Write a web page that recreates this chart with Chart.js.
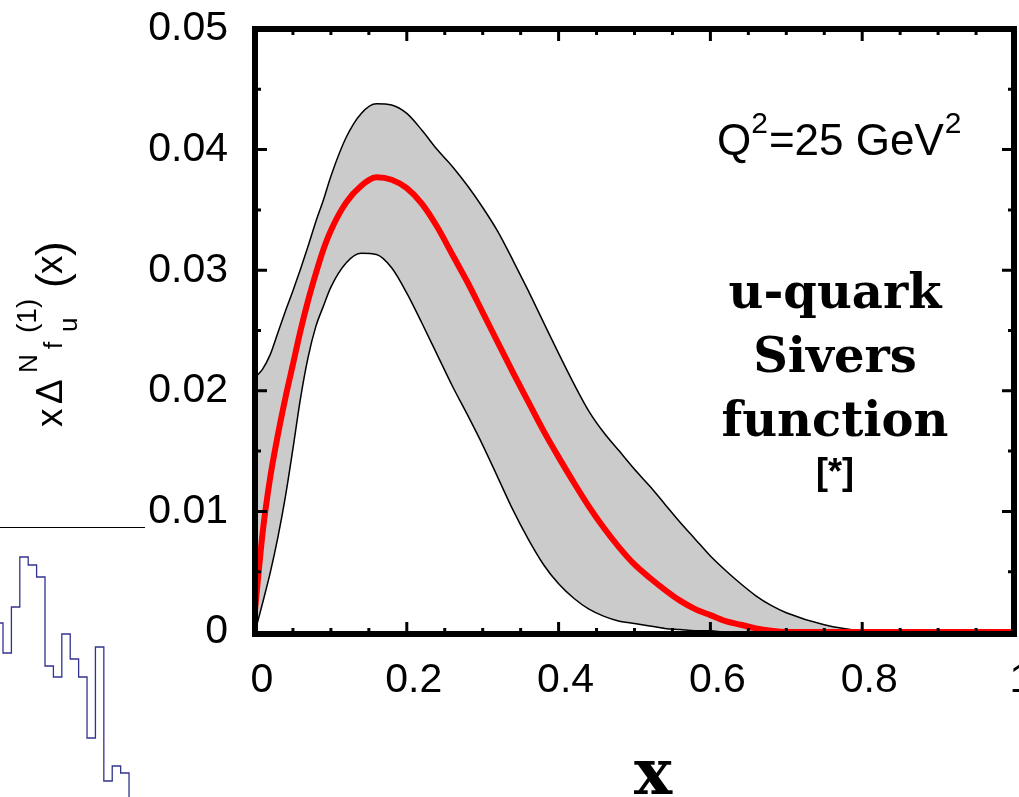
<!DOCTYPE html>
<html>
<head>
<meta charset="utf-8">
<script src="https://cdn.jsdelivr.net/npm/chart.js@4.4.1/dist/chart.umd.min.js"></script>
<style>
  html, body { margin: 0; padding: 0; background: #fff; }
  body { width: 1019px; height: 797px; overflow: hidden; position: relative; }
  #side { position: absolute; left: 0; top: 540px; }
  #main { position: absolute; left: 0; top: 0; }
  #sideLine { position: absolute; left: 0; top: 527px; width: 145px; border-top: 1.5px solid #000; }
</style>
</head>
<body>
<div id="sideLine"></div>
<canvas id="side" width="145" height="257"></canvas>
<canvas id="main" width="1060" height="797"></canvas>
<script>
// u-quark Sivers first moment, Q^2 = 25 GeV^2
const xValues = [0, 0.01, 0.02, 0.03, 0.04, 0.05, 0.06, 0.07, 0.08, 0.09, 0.10,
  0.12, 0.14, 0.16, 0.18, 0.20, 0.22, 0.24, 0.26, 0.28, 0.30,
  0.32, 0.34, 0.36, 0.38, 0.40, 0.42, 0.44, 0.46, 0.48, 0.50,
  0.52, 0.54, 0.56, 0.58, 0.60, 0.62, 0.64, 0.66, 0.68, 0.70,
  0.75, 0.80, 0.85, 0.90, 0.95, 1.00];

const centralFit = [0.0018, 0.0082, 0.0128, 0.0163, 0.0194, 0.0222, 0.0250, 0.0275, 0.0297, 0.0317, 0.0333,
  0.0356, 0.0370, 0.0377, 0.0375, 0.0368, 0.0355, 0.0336, 0.0313, 0.0290, 0.0265,
  0.0240, 0.0215, 0.0191, 0.0167, 0.0145, 0.0124, 0.0104, 0.0086, 0.0070, 0.0056,
  0.0045, 0.0035, 0.0026, 0.0019, 0.0014, 0.0009, 0.0006, 0.0003, 0.0001, 0,
  0, 0, 0, 0, 0, 0];

const bandUpper = [0.0211, 0.0218, 0.0230, 0.0248, 0.0266, 0.0283, 0.0301, 0.0320, 0.0340, 0.0358, 0.0378,
  0.0410, 0.0430, 0.0438, 0.0437, 0.0430, 0.0416, 0.0400, 0.0386, 0.0370, 0.0352,
  0.0332, 0.0308, 0.0283, 0.0257, 0.0231, 0.0206, 0.0183, 0.0165, 0.0150, 0.0135,
  0.0121, 0.0106, 0.0091, 0.0077, 0.0063, 0.0051, 0.0040, 0.0030, 0.0022, 0.0016,
  0.0006, 0.0001, 0, 0, 0, 0];

const bandLower = [0, 0.0024, 0.0049, 0.0078, 0.0112, 0.0152, 0.0194, 0.0228, 0.0253, 0.0270, 0.0286,
  0.0306, 0.0314, 0.0313, 0.0302, 0.0281, 0.0256, 0.0230, 0.0204, 0.0180, 0.0155,
  0.0128, 0.0101, 0.0077, 0.0056, 0.0040, 0.0028, 0.0019, 0.0013, 0.0009, 0.0007,
  0.0005, 0.0003, 0.0002, 0.0001, 0.0001, 0, 0, 0, 0, 0,
  0, 0, 0, 0, 0, 0];

const xTicks = [0, 0.2, 0.4, 0.6, 0.8, 1];
const yTicks = [0, 0.01, 0.02, 0.03, 0.04, 0.05];

// cropped neighbour panel on the left: histogram bin edges and counts
const sideEdges = [0, 1, 2, 3, 4, 5, 6, 7, 8, 9, 10, 11, 12, 13, 14, 15, 16];
const sideCounts = [92, 77, 100, 125, 121, 115, 70.5, 65, 86.5, 74, 65, 34.5, 80, 13, 20.5, 17, 0];

const SANS = '"Liberation Sans", Arial, Helvetica, sans-serif';
const SERIF = '"DejaVu Serif", serif';

// thick frame with inward ticks on all four sides
const framePlugin = {
  id: 'frame',
  afterDatasetsDraw(chart) {
    const {ctx, chartArea: a, scales: {x, y}} = chart;
    const bottom = a.bottom + 2;
    ctx.save();
    ctx.strokeStyle = '#000';
    ctx.lineWidth = 3;
    ctx.beginPath();
    for (let i = 1; i < 20; i++) {
      const px = x.getPixelForValue(i * 0.05);
      const len = i % 4 === 0 ? 12 : 6;
      ctx.moveTo(px, bottom); ctx.lineTo(px, bottom - len);
      ctx.moveTo(px, a.top); ctx.lineTo(px, a.top + len);
    }
    for (let i = 1; i < 10; i++) {
      const py = y.getPixelForValue(i * 0.005);
      const len = i % 2 === 0 ? 12 : 6;
      ctx.moveTo(a.left, py); ctx.lineTo(a.left + len, py);
      ctx.moveTo(a.right, py); ctx.lineTo(a.right - len, py);
    }
    ctx.stroke();
    ctx.lineWidth = 6;
    ctx.strokeRect(a.left, a.top, a.right - a.left, bottom - a.top);
    ctx.restore();
  }
};

const textPlugin = {
  id: 'texts',
  afterDraw(chart) {
    const ctx = chart.ctx;
    ctx.save();
    ctx.fillStyle = '#000';
    ctx.textBaseline = 'alphabetic';

    // y axis title, rotated
    ctx.save();
    ctx.translate(62, 427);
    ctx.rotate(-Math.PI / 2);
    ctx.font = '37px ' + SANS;
    ctx.fillText('x', 0, 0);
    ctx.fillText('\u0394', 23, 0);
    ctx.font = '26px ' + SANS;
    ctx.fillText('N', 54, -25);
    ctx.fillText('f', 78, 0);
    ctx.fillText('u', 95, 15);
    ctx.font = '28px ' + SANS;
    ctx.fillText('(1)', 94, -26);
    ctx.font = '44px ' + SANS;
    ctx.fillText('(', 139, 5);
    ctx.fillText(')', 171, 5);
    ctx.font = '37px ' + SANS;
    ctx.fillText('x', 153, 0);
    ctx.restore();

    // Q^2 = 25 GeV^2
    let qx = 717;
    ctx.font = '44px ' + SANS;
    ctx.fillText('Q', qx, 155);
    qx += ctx.measureText('Q').width;
    ctx.font = '30px ' + SANS;
    ctx.fillText('2', qx, 133);
    qx += ctx.measureText('2').width + 1;
    ctx.font = '44px ' + SANS;
    ctx.fillText('=25 GeV', qx, 155);
    qx += ctx.measureText('=25 GeV').width;
    ctx.font = '30px ' + SANS;
    ctx.fillText('2', qx + 1, 133);

    // panel label
    ctx.textAlign = 'center';
    ctx.font = 'bold 48px ' + SERIF;
    ctx.fillText('u-quark', 835, 308);
    ctx.fillText('Sivers', 835, 372);
    ctx.fillText('function', 835, 436);
    ctx.font = 'bold 36px ' + SANS;
    ctx.fillText('[*]', 835, 484);

    // x axis title
    ctx.font = 'bold 64px ' + SERIF;
    ctx.fillText('x', 653, 794);
    ctx.restore();
  }
};

const tickFont = {family: SANS, size: 41};

// keep the label overhang from pushing the plot area around
function fixPadding(s) {
  s.paddingTop = 0;
  s.paddingBottom = 0;
  s.paddingLeft = 0;
  s.paddingRight = 0;
}

new Chart(document.getElementById('main'), {
  type: 'line',
  data: {
    datasets: [
      {
        label: 'central',
        data: xValues.map((x, i) => ({x, y: centralFit[i]})),
        borderColor: '#ff0000',
        borderWidth: 6,
        borderCapStyle: 'round',
        pointRadius: 0,
        fill: false,
        cubicInterpolationMode: 'monotone'
      },
      {
        label: 'upper',
        data: xValues.map((x, i) => ({x, y: bandUpper[i]})),
        borderColor: '#000',
        borderWidth: 1.5,
        backgroundColor: '#cbcbcb',
        pointRadius: 0,
        fill: '+1',
        cubicInterpolationMode: 'monotone'
      },
      {
        label: 'lower',
        data: xValues.map((x, i) => ({x, y: bandLower[i]})),
        borderColor: '#000',
        borderWidth: 1.5,
        pointRadius: 0,
        fill: false,
        cubicInterpolationMode: 'monotone'
      }
    ]
  },
  options: {
    responsive: false,
    animation: false,
    devicePixelRatio: 1,
    layout: {padding: {left: 0, top: 29, right: 46, bottom: 0}},
    plugins: {
      legend: {display: false},
      tooltip: {enabled: false},
      filler: {drawTime: 'beforeDatasetsDraw'}
    },
    scales: {
      x: {
        type: 'linear',
        min: 0,
        max: 1,
        afterFit: s => { s.height = 165; fixPadding(s); },
        afterBuildTicks: s => { s.ticks = xTicks.map(v => ({value: v})); },
        grid: {display: false, drawTicks: false},
        border: {display: false},
        ticks: {font: tickFont, color: '#000', padding: 24, labelOffset: 7, maxRotation: 0, autoSkip: false, callback: v => String(v)}
      },
      y: {
        min: 0,
        max: 0.05,
        afterFit: s => { s.width = 255; fixPadding(s); },
        afterBuildTicks: s => { s.ticks = yTicks.map(v => ({value: v})); },
        grid: {display: false, drawTicks: false},
        border: {display: false},
        ticks: {font: tickFont, color: '#000', padding: 27, autoSkip: false, callback: v => String(v)}
      }
    }
  },
  plugins: [framePlugin, textPlugin]
});

// neighbouring histogram (cropped at the left edge)
new Chart(document.getElementById('side'), {
  type: 'line',
  data: {
    datasets: [{
      data: sideEdges.map((e, i) => ({x: e, y: sideCounts[i]})),
      stepped: true,
      borderColor: '#33338f',
      borderWidth: 1.3,
      pointRadius: 0,
      fill: false
    }]
  },
  options: {
    responsive: false,
    animation: false,
    devicePixelRatio: 1,
    layout: {padding: 0},
    plugins: {legend: {display: false}, tooltip: {enabled: false}},
    scales: {
      x: {type: 'linear', display: false, min: 0.643, max: 17.9},
      y: {display: false, min: 5, max: 133.5}
    }
  }
});
</script>
</body>
</html>
